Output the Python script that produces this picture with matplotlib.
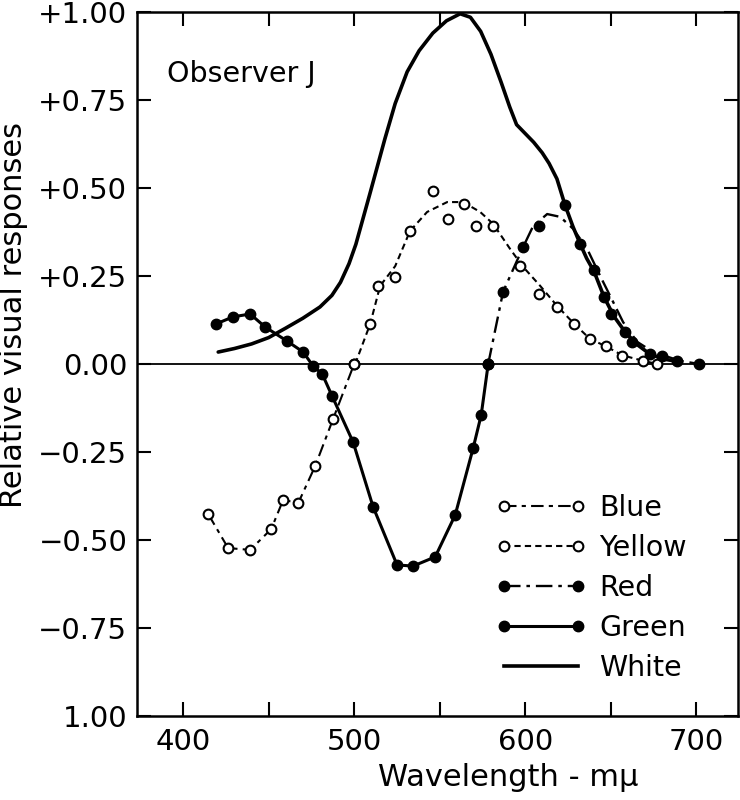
import matplotlib
matplotlib.use("Agg")
import matplotlib.pyplot as plt
from matplotlib.lines import Line2D

# ---------------- data ----------------
blue_wl = [414.6, 426.3, 439.2, 451.5, 458.5, 467.3, 477.2, 487.7, 500.0]
blue_val = [-0.426, -0.523, -0.528, -0.469, -0.386, -0.395, -0.290, -0.156, 0.0]

yellow_wl = [500.0, 509.4, 514.0, 524.0, 532.7, 546.2, 555.0, 564.3, 571.3, 581.3,
             597.1, 608.2, 618.7, 628.7, 638.0, 647.4, 656.7, 669.0, 677.2]
yellow_val = [0.0, 0.114, 0.222, 0.247, 0.378, 0.491, 0.412, 0.455, 0.392, 0.392,
              0.278, 0.199, 0.162, 0.114, 0.071, 0.051, 0.023, 0.009, 0.0]
yellow_curve_wl = [500.6, 509.4, 515.2, 524.0, 532.7, 542.7, 554.4, 563.7, 573.7, 581.3,
                   591.2, 598.8, 608.8, 618.7, 628.7, 638.0, 647.4, 656.7, 669.0, 677.2]
yellow_curve_val = [0.0, 0.114, 0.222, 0.278, 0.378, 0.432, 0.460, 0.460, 0.432, 0.398,
                    0.327, 0.276, 0.222, 0.165, 0.114, 0.071, 0.050, 0.025, 0.009, 0.0]

green_wl = [419.3, 429.2, 439.2, 448.0, 460.8, 470.2, 476.0, 481.3, 487.1, 499.4,
            511.1, 525.1, 534.5, 547.4, 559.1, 569.6, 574.3, 578.4]
green_val = [0.114, 0.134, 0.142, 0.105, 0.065, 0.034, -0.006, -0.028, -0.091, -0.222,
             -0.406, -0.571, -0.574, -0.548, -0.429, -0.239, -0.145, 0.0]

red_wl = [578.4, 587.1, 598.8, 608.2, 623.4, 632.2, 640.4, 646.2, 650.3, 658.5,
          662.6, 673.1, 680.1, 688.9, 701.8]
red_val = [0.0, 0.205, 0.332, 0.392, 0.452, 0.341, 0.267, 0.190, 0.142, 0.091,
           0.063, 0.028, 0.023, 0.009, 0.0]
red_curve_wl = [578.4, 587.1, 598.8, 604.7, 612.9, 620.5, 628.1, 636.3, 643.9, 651.5,
                657.3, 665.5, 674.9, 690.6, 701.8]
red_curve_val = [0.0, 0.205, 0.332, 0.392, 0.426, 0.418, 0.384, 0.327, 0.250, 0.176,
                 0.119, 0.063, 0.034, 0.009, 0.0]

white_wl = [420.5, 430.0, 440.0, 450.0, 460.0, 470.0, 480.0, 487.0, 492.0, 497.0,
            501.0, 505.0, 509.0, 513.5, 518.0, 524.0, 531.0, 538.0, 546.0, 554.0,
            562.0, 568.0, 574.0, 580.0, 586.0, 591.0, 595.0, 600.0, 605.0, 610.0,
            614.0, 618.6, 623.3, 628.0, 632.2, 636.0, 640.4, 646.2, 652.0, 658.5,
            665.0, 673.0, 681.0, 690.6]
white_val = [0.034, 0.044, 0.057, 0.075, 0.102, 0.130, 0.162, 0.195, 0.232, 0.285,
             0.340, 0.410, 0.480, 0.560, 0.640, 0.740, 0.830, 0.890, 0.940, 0.975,
             0.995, 0.985, 0.945, 0.880, 0.800, 0.730, 0.680, 0.655, 0.630, 0.600,
             0.570, 0.526, 0.452, 0.390, 0.341, 0.300, 0.262, 0.190, 0.135, 0.091,
             0.057, 0.028, 0.014, 0.006]

ytick_vals = [1.0, 0.75, 0.5, 0.25, 0.0, -0.25, -0.5, -0.75, -1.0]
ytick_labels = ["+1.00", "+0.75", "+0.50", "+0.25", "0.00",
                "\u22120.25", "\u22120.50", "\u22120.75", "1.00"]
xtick_major = [400, 500, 600, 700]
xtick_minor = [450, 550, 650]

# ---------------- figure ----------------
plt.rcParams['font.family'] = ['DejaVu Sans']
W, H = 740, 800
fig = plt.figure(figsize=(W / 100, H / 100), dpi=100)
L, R, T, B = 137, 738, 12, 716
ax = fig.add_axes([L / W, 1 - B / H, (R - L) / W, (B - T) / H])
ax.set_xlim(373, 724.5)
ax.set_ylim(-1.0, 1.0)

k = 'black'
ax.axhline(0, color=k, lw=1.3, zorder=1)

open_m = dict(marker='o', ms=7, mfc='white', mec=k, mew=1.5)
fill_m = dict(marker='o', ms=7.5, mfc=k, mec=k)
blue_ls = dict(color=k, lw=1.5, dashes=(6, 2.5, 2, 2.5))
yellow_ls = dict(color=k, lw=1.5, dashes=(3, 2))
red_ls = dict(color=k, lw=1.7, dashes=(7, 2.5, 1.5, 2.5))
green_ls = dict(color=k, lw=2.2)
white_ls = dict(color=k, lw=2.6)

# white
ax.plot(white_wl, white_val, solid_capstyle='round', zorder=3, **white_ls)
# blue
ax.plot(blue_wl, blue_val, zorder=3, **blue_ls)
ax.plot(blue_wl, blue_val, ls='none', zorder=4, **open_m)
# yellow
ax.plot(yellow_curve_wl, yellow_curve_val, zorder=3, **yellow_ls)
ax.plot(yellow_wl, yellow_val, ls='none', zorder=4, **open_m)
# green
ax.plot(green_wl, green_val, zorder=3, **green_ls)
ax.plot(green_wl, green_val, ls='none', zorder=4, **fill_m)
# red
ax.plot(red_curve_wl, red_curve_val, zorder=3, **red_ls)
ax.plot(red_wl, red_val, ls='none', zorder=4, **fill_m)

# axes styling
for s in ax.spines.values():
    s.set_linewidth(1.8)
ax.set_yticks(ytick_vals)
ax.set_yticklabels(ytick_labels)
ax.set_xticks(xtick_major)
ax.set_xticks(xtick_minor, minor=True)
ax.tick_params(axis='both', which='both', direction='in', top=True, right=True,
               length=10, width=1.5, labelsize=21, colors=k)
ax.tick_params(axis='y', pad=7)
ax.tick_params(axis='x', pad=9)

ax.text(390.6, 0.825, "Observer J", fontsize=20.5, va='center', ha='left')

fig.text(508 / W, 1 - 778 / H, "Wavelength - m\u03bc", fontsize=22, ha='center', va='center')
fig.text(14 / W, 1 - 315 / H, "Relative visual responses", fontsize=22, ha='center',
         va='center', rotation=90)

handles = [
    Line2D([], [], **blue_ls, **open_m),
    Line2D([], [], **yellow_ls, **open_m),
    Line2D([], [], **red_ls, **fill_m),
    Line2D([], [], **green_ls, **fill_m),
    Line2D([], [], **white_ls),
]
labels = ["Blue", "Yellow", "Red", "Green", "White"]
ax.legend(handles, labels, loc='upper left', bbox_to_anchor=((495 - L) / (R - L), (B - 494) / (B - T)),
          frameon=False, fontsize=20.5, numpoints=2, handlelength=3.2, handletextpad=0.45,
          labelspacing=0.42, borderpad=0, borderaxespad=0)

fig.savefig("out.png", dpi=100)
